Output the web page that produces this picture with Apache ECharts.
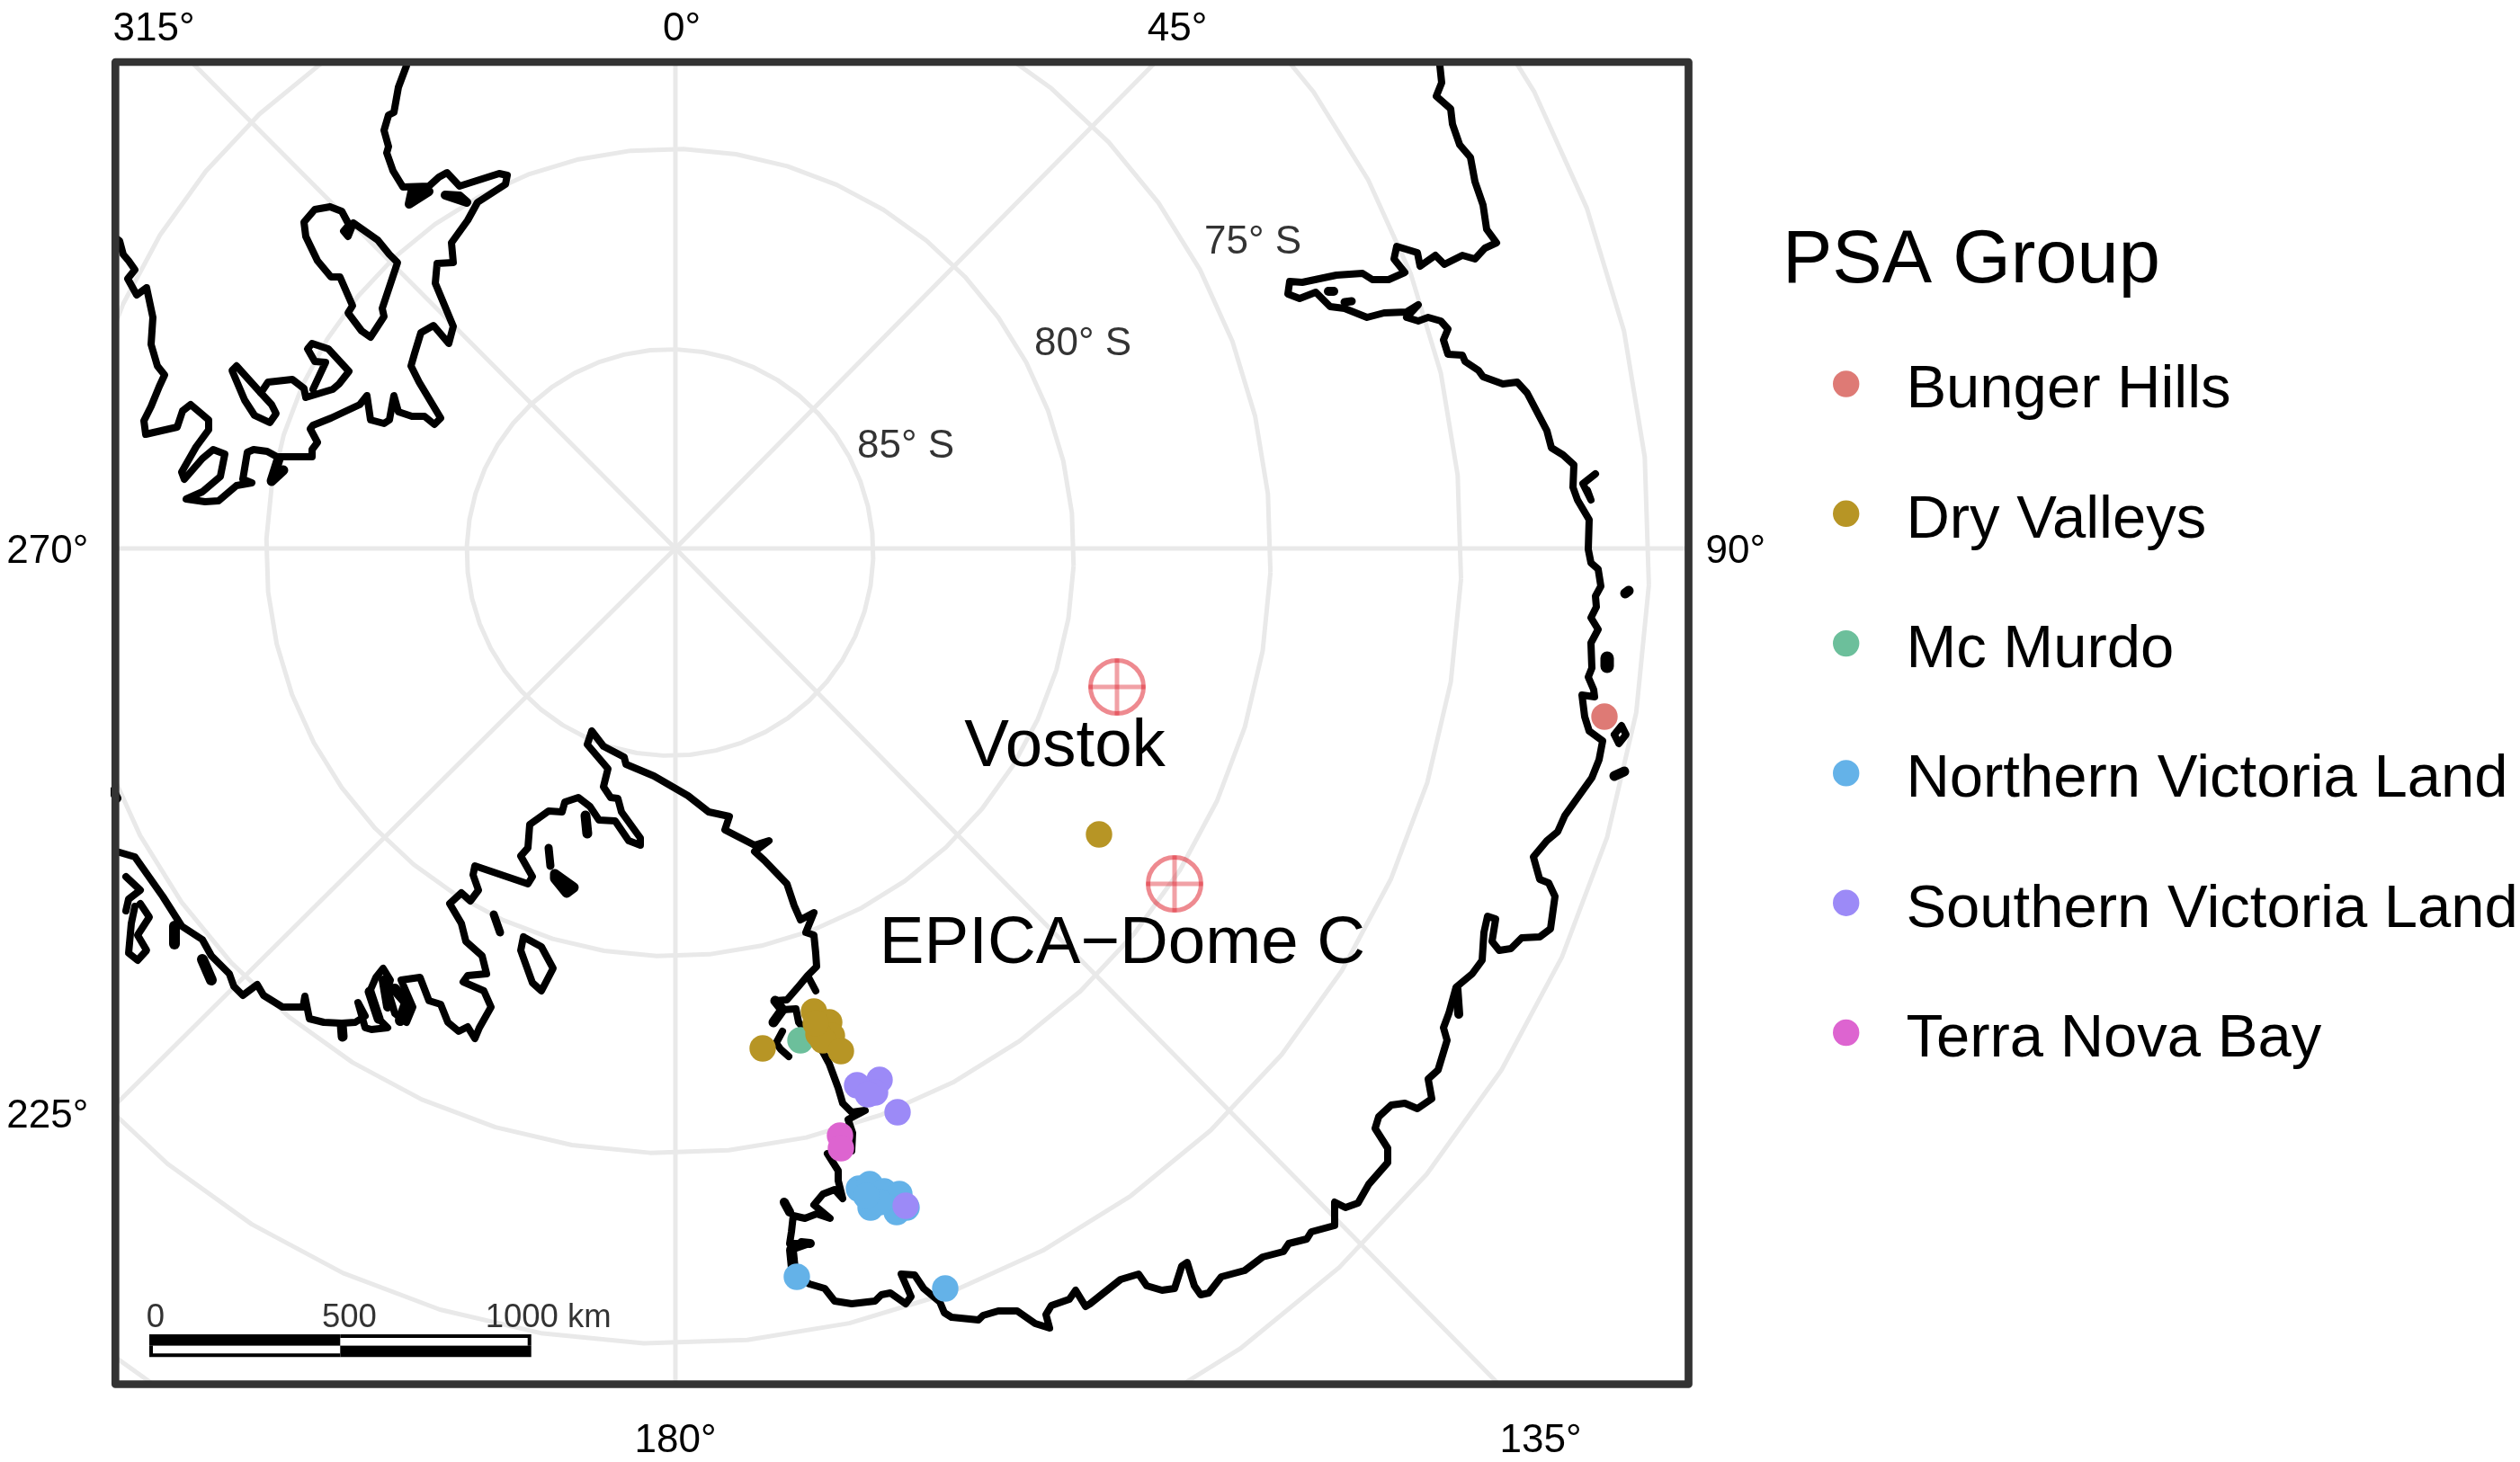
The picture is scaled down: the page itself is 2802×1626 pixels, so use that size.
<!DOCTYPE html>
<html><head><meta charset="utf-8">
<style>html,body{margin:0;padding:0;background:#fff}#c{width:2802px;height:1626px}</style>
<script src="https://cdn.jsdelivr.net/npm/echarts@6/dist/echarts.min.js"></script>
</head><body><div id="c"></div>
<script>
// Map units: polar-stereographic easting / southing from the pole. 1000 km = 424.7 units.
const UNITS_PER_KM = 0.4247;
const xLimits = [-622.7, 1126.5];
const yLimits = [-541, 929.5];

const groupNames = ['Bunger Hills','Dry Valleys','Mc Murdo','Northern Victoria Land','Southern Victoria Land','Terra Nova Bay'];
const bungerHills = [[1033,187]];
const dryValleys = [[154,515],[171,527],[174,542],[159,540],[164,547],[184,559],[97,556],[156,528],[471,318]];
const mcMurdo = [[139,547]];
const northernVictoria = [[204,712],[216,707],[232,715],[249,718],[217,733],[246,738],[257,733],[227,727],[212,720],[135,810],[300,823]];
const southernVictoria = [[202,597],[227,591],[222,605],[214,607],[247,627],[256,731]];
const terraNova = [[183,653],[184,667]];

const stationNames = ['Vostok','EPICA\u2212Dome C'];
const stationCoords = [[491,154],[555,373]];

const topTicks = {'-580':'315\u00b0','7':'0\u00b0','558':'45\u00b0'};
const bottomTicks = {'0':'180\u00b0','962':'135\u00b0'};
const leftTicks = {'4':'270\u00b0','632':'225\u00b0'};
const rightTicks = {'4':'90\u00b0'};

const parallelLabels = ['85\u00b0 S','80\u00b0 S','75\u00b0 S'];
const parallelLabelCoords = [[256,-113],[453,-227],[642,-340]];
const parallelRadii = [226,449,668,880,1089];
const parallelCentre = [-6,4.5];
const meridianEnds = [[0,-541],[534,-541],[1127,0],[916,930],[0,930],[-622,618],[-623,0],[-538,-541]];

const scaleKm = [0,500,1000];
const scaleTickLabels = ['0','500','1000 km'];
const scaleLabelShift = [7,10,19];

const coastEast = [[849,-550],[850,-537],[852,-518],[846,-503],[862,-489],[864,-472],[872,-449],[884,-435],[889,-408],[898,-382],[902,-355],[913,-340],[900,-334],[889,-322],[875,-326],[855,-316],[845,-326],[828,-314],[825,-329],[802,-336],[799,-322],[811,-307],[793,-299],[775,-299],[764,-306],[735,-304],[697,-296],[683,-297],[681,-283],[694,-278],[712,-285],[728,-269],[744,-267],[769,-257],[788,-262],[813,-263],[826,-271],[813,-257],[826,-253],[837,-257],[851,-253],[859,-244],[854,-232],[859,-216],[875,-215],[878,-208],[893,-198],[898,-191],[920,-183],[936,-185],[947,-173],[969,-131],[974,-112],[987,-104],[999,-93],[998,-68],[1003,-54],[1016,-32],[1015,1],[1018,16],[1026,23],[1029,42],[1023,53],[1024,65],[1018,77],[1026,90],[1018,105],[1019,133],[1015,143],[1021,157],[1022,165],[1008,163],[1011,187],[1016,203],[1031,214],[1027,235],[1019,255],[989,297],[981,315],[969,325],[954,343],[961,368],[971,372],[978,387],[973,423],[961,432],[941,433],[929,445],[916,447],[908,437],[912,412],[903,409],[899,427],[897,458],[886,473],[868,488],[860,517],[854,533],[858,547],[848,580],[837,590],[841,612],[825,623],[811,617],[796,619],[782,632],[778,645],[792,667],[792,683],[771,707],[759,728],[745,733],[733,727],[733,753],[707,760],[702,768],[682,773],[676,782],[653,788],[633,803],[607,810],[593,828],[584,830],[577,820],[569,794],[563,798],[555,823],[541,825],[524,820],[515,807],[495,813],[461,840],[456,843],[445,825],[438,835],[418,842],[412,852],[416,867],[400,862],[380,848],[359,848],[342,853],[337,858],[307,855],[299,850],[294,838],[276,823],[266,808],[251,807],[262,832],[256,840],[239,828],[229,830],[222,837],[196,840],[177,837],[166,823],[149,818],[135,810],[131,800],[129,780],[149,773],[127,773],[129,760],[131,742],[144,745],[157,740],[172,745],[154,730],[164,718],[177,713],[186,723],[181,703],[181,692],[169,673],[196,670],[197,650],[192,635],[211,625],[196,627],[186,617],[181,600],[171,573],[164,560],[156,550],[137,527],[134,512],[119,513],[109,527],[119,513],[111,503],[124,502],[137,487],[147,475],[156,492],[147,475],[157,465],[156,450],[154,430],[145,427],[154,405],[139,413],[132,397],[124,373],[99,347],[88,337],[104,325],[88,330],[55,313],[60,298],[37,293],[14,275],[-24,253],[-55,240],[-57,232],[-80,220],[-93,203],[-98,218],[-75,245],[-80,265],[-72,277],[-64,278],[-60,293],[-39,322],[-39,330],[-52,325],[-67,303],[-85,302],[-95,287],[-108,277],[-123,282],[-126,293],[-141,292],[-162,307],[-164,333],[-172,342],[-159,365],[-164,373],[-223,353],[-225,363],[-219,380],[-228,392],[-238,383],[-251,395],[-238,417],[-233,437],[-215,453],[-210,473],[-231,475],[-236,482],[-213,492],[-205,510],[-218,533],[-223,545],[-231,532],[-241,537],[-253,527],[-261,507],[-274,503],[-284,477],[-305,480],[-292,510],[-299,527],[-312,517],[-320,490],[-317,480],[-325,467],[-333,477],[-340,493],[-330,523],[-320,533],[-338,535],[-345,533],[-353,505],[-345,520],[-356,527],[-371,528],[-391,527],[-407,523],[-412,498],[-414,510],[-437,510],[-458,497],[-465,485],[-481,497],[-491,487],[-496,473],[-516,453],[-526,435],[-549,420],[-570,387],[-601,343],[-618,338],[-631,336]];
const coastPeninsula = [[-299,-550],[-299,-537],[-308,-513],[-313,-485],[-319,-482],[-324,-465],[-319,-447],[-321,-440],[-314,-420],[-303,-402],[-274,-403],[-263,-413],[-254,-418],[-240,-403],[-196,-417],[-187,-415],[-189,-405],[-220,-385],[-231,-365],[-249,-340],[-247,-318],[-265,-317],[-267,-295],[-247,-247],[-252,-228],[-269,-248],[-283,-240],[-290,-217],[-294,-203],[-285,-185],[-261,-145],[-268,-138],[-279,-147],[-293,-147],[-308,-152],[-313,-170],[-318,-143],[-324,-139],[-339,-143],[-343,-170],[-351,-160],[-383,-145],[-403,-137],[-406,-133],[-398,-118],[-404,-110],[-404,-102],[-443,-102],[-454,-108],[-469,-110],[-476,-107],[-481,-77],[-471,-73],[-488,-70],[-508,-53],[-523,-52],[-544,-55],[-526,-63],[-506,-80],[-501,-105],[-514,-110],[-526,-100],[-546,-77],[-549,-85],[-533,-113],[-519,-132],[-519,-143],[-539,-160],[-548,-153],[-554,-135],[-589,-127],[-591,-142],[-583,-158],[-574,-180],[-568,-193],[-576,-203],[-583,-227],[-581,-257],[-588,-290],[-599,-282],[-609,-300],[-601,-310],[-608,-320],[-614,-327],[-618,-342],[-626,-348]];
const coastShelfLoop = [[-384,-380],[-371,-375],[-363,-360],[-369,-353],[-364,-347],[-358,-362],[-331,-343],[-318,-327],[-309,-318],[-326,-267],[-324,-258],[-339,-235],[-349,-242],[-364,-262],[-359,-270],[-373,-302],[-383,-302],[-398,-320],[-411,-347],[-413,-363],[-401,-377],[-384,-380]];
const coastInlet = [[-488,-203],[-493,-198],[-479,-165],[-468,-148],[-451,-140],[-444,-150],[-449,-160],[-461,-173],[-488,-203]];
const coastInletBranch = [[-461,-173],[-453,-185],[-426,-188],[-413,-178],[-411,-168],[-381,-177],[-374,-183],[-363,-197],[-386,-222],[-404,-228],[-409,-222],[-401,-208],[-389,-207],[-403,-177]];
const islandsThin = [
  [[-169,432],[-149,443],[-136,467],[-149,492],[-159,483],[-172,447],[-169,432]],
  [[-611,365],[-595,380],[-608,390],[-611,403]],
  [[-595,395],[-585,410],[-598,430],[-588,447],[-598,458],[-608,450],[-605,417],[-601,398]],
  [[1044,207],[1052,197],[1057,207],[1049,217],[1044,207]],
  [[1023,-83],[1009,-72],[1018,-54],[1014,-65]],
  [[119,537],[112,550],[117,557],[126,565]]
];
// Short heavy blobs: small islands and tangled inlets too fine to show an outline
const islandsBlob = [
  [[-441,-100],[-449,-75],[-436,-87]],
  [[-296,-383],[-274,-397],[-293,-397],[-296,-383]],
  [[-256,-393],[-232,-385],[-240,-392],[-256,-393]],
  [[-141,333],[-139,353]],
  [[-134,362],[-113,377],[-121,383],[-134,367],[-134,362]],
  [[-202,407],[-195,427]],
  [[-100,297],[-98,317]],
  [[-371,530],[-370,543]],
  [[-557,420],[-557,440]],
  [[-526,457],[-516,480]],
  [[-621,278],[-625,270]],
  [[1056,50],[1060,47]],
  [[1036,122],[1036,131]],
  [[1044,253],[1055,248]],
  [[726,-286],[732,-286]],
  [[744,-274],[752,-275]],
  [[869,490],[871,518]],
  [[121,727],[127,738]],
  [[-312,490],[-299,505],[-306,525]],
  [[-340,493],[-330,523]],
  [[-325,480],[-320,510]],
  [[109,527],[119,513],[111,503]],
  [[131,800],[129,780]],
  [[140,772],[150,773]]
];
const blobWidths = [11,10,10,9,11,9,11,11,12,12,10,11,15,11,10,9,10,10,12,11,10,11,12,10];

const gratStyle = {color:'#E9E9E9', width:5};
const lineBase = {type:'line', showSymbol:false, symbol:'none', animation:false, silent:true, xAxisIndex:0, yAxisIndex:0};
function ringPoints(r){
  const pts=[];
  for(let deg=-1.9; deg<=358.1+0.01; deg+=7.5){
    const a=deg*Math.PI/180;
    pts.push([parallelCentre[0]+r*Math.cos(a), parallelCentre[1]-r*Math.sin(a)]);
  }
  pts.push(pts[0]);
  return pts;
}
const series=[];
parallelRadii.forEach((r,i)=>series.push({...lineBase,name:'parallel'+i,data:ringPoints(r),lineStyle:gratStyle,z:1}));
meridianEnds.forEach((e,i)=>series.push({...lineBase,name:'meridian'+i,data:[[0,0],e],lineStyle:gratStyle,z:1}));

const coastStyle={color:'#000',width:8,join:'round',cap:'round'};
[coastEast,coastPeninsula,coastShelfLoop,coastInlet,coastInletBranch].concat(islandsThin).forEach((d,i)=>{
  series.push({...lineBase,name:'coast'+i,data:d,lineStyle:coastStyle,z:2});
});
islandsBlob.forEach((d,i)=>{
  series.push({...lineBase,name:'blob'+i,data:d,lineStyle:{...coastStyle,width:blobWidths[i]},z:2});
});

const POINT=29.4;
const groups=[
  [groupNames[0],bungerHills,'#DE7A75'],
  [groupNames[2],mcMurdo,'#6CBF9B'],
  [groupNames[1],dryValleys,'#B79525'],
  [groupNames[3],northernVictoria,'#64B2E8'],
  [groupNames[4],southernVictoria,'#9C8AF7'],
  [groupNames[5],terraNova,'#DD64D0']
];
groups.forEach(g=>series.push({type:'scatter',name:g[0],data:g[1],symbol:'circle',symbolSize:POINT,itemStyle:{color:g[2],opacity:1},z:3,animation:false,silent:true}));

const stationRed='rgba(222,30,42,0.52)';
series.push({type:'scatter',name:'stationRing',data:stationCoords.map((c,i)=>({value:c,name:stationNames[i]})),symbol:'circle',symbolSize:59,
  itemStyle:{color:'rgba(0,0,0,0)',borderColor:stationRed,borderWidth:5,opacity:1},z:4,animation:false,silent:true,
  label:{show:true,position:'inside',formatter:'{b}',offset:[-58,67],color:'#000',fontFamily:'Liberation Sans',fontSize:74.5}});
series.push({type:'scatter',name:'stationH',data:stationCoords,symbol:'rect',symbolSize:[63,5],itemStyle:{color:stationRed},z:4,animation:false,silent:true});
series.push({type:'scatter',name:'stationV',data:stationCoords,symbol:'rect',symbolSize:[5,63],itemStyle:{color:stationRed},z:4,animation:false,silent:true});

series.push({type:'scatter',name:'parallelLabels',data:parallelLabelCoords.map((c,i)=>({value:c,name:parallelLabels[i]})),symbolSize:1,
  itemStyle:{color:'rgba(0,0,0,0)'},z:5,animation:false,silent:true,
  label:{show:true,position:'inside',formatter:'{b}',color:'#000',fontFamily:'Liberation Sans',fontSize:44}});

// Scale bar: a black cell per segment, white segments inset on their outer sides
const barLeft=-585, barTop=874, barRowHeight=12.65, barEdge=4;
const kmX=km=>barLeft+km*UNITS_PER_KM;
const scaleSegments=[[0,500,0,'#000'],[500,1000,0,'#fff'],[0,500,1,'#fff'],[500,1000,1,'#000']];
series.push({type:'custom',name:'scaleBar',data:scaleSegments,z:6,animation:false,silent:true,
  renderItem(p,api){
    const s=scaleSegments[p.dataIndex];
    const a=api.coord([kmX(s[0]),barTop+s[2]*barRowHeight]);
    const b=api.coord([kmX(s[1]),barTop+(s[2]+1)*barRowHeight]);
    const children=[{type:'rect',shape:{x:a[0],y:a[1],width:b[0]-a[0],height:b[1]-a[1]},style:{fill:'#000'}}];
    if(s[3]==='#fff'){
      const l=s[2]===1?barEdge:0, r=s[2]===0?barEdge:0, t=s[2]===0?barEdge:0, bt=s[2]===1?barEdge:0;
      children.push({type:'rect',shape:{x:a[0]+l,y:a[1]+t,width:b[0]-a[0]-l-r,height:b[1]-a[1]-t-bt},style:{fill:'#fff'}});
    }
    return {type:'group',children};
  }});
series.push({type:'scatter',name:'scaleLabels',data:scaleKm.map((k,i)=>({value:[kmX(k)+scaleLabelShift[i],856],name:scaleTickLabels[i]})),symbolSize:1,
  itemStyle:{color:'rgba(0,0,0,0)'},z:6,animation:false,silent:true,
  label:{show:true,position:'inside',formatter:'{b}',color:'#000',fontFamily:'Liberation Sans',fontSize:36.5}});

series.push({...lineBase,name:'panel',clip:false,z:9,
  data:[[xLimits[0],yLimits[0]],[xLimits[1],yLimits[0]],[xLimits[1],yLimits[1]],[xLimits[0],yLimits[1]],[xLimits[0],yLimits[0]],[xLimits[1],yLimits[0]]],
  lineStyle:{color:'#333333',width:8.7,join:'round',cap:'round'}});

function tickAxis(map,pos,margin,lim){
  return {type:'value',position:pos,min:lim[0],max:lim[1],inverse:(pos==='left'||pos==='right'),scale:true,
    axisLine:{show:false},axisTick:{show:false},splitLine:{show:false},
    axisLabel:{show:true,customValues:Object.keys(map).map(Number),formatter:v=>map[String(Math.round(v))],margin,hideOverlap:false,showMinLabel:true,showMaxLabel:true,
      color:'#000',fontFamily:'Liberation Sans',fontSize:44}};
}

// Legend key: a circle sitting at the top of a taller box, so the key rides slightly above its label's centre
const legendIcon='path://M0 14.7A14.7 14.7 0 1 1 29.4 14.7A14.7 14.7 0 1 1 0 14.7ZM14.7 45.39L14.7 45.4Z';

const chart=echarts.init(document.getElementById('c'),null,{renderer:'canvas',width:2802,height:1626});
chart.setOption({
  backgroundColor:'#fff',animation:false,
  grid:{left:128.3,top:69,right:924.5,bottom:86.5,containLabel:false,show:false},
  title:{text:'PSA Group',left:1982,top:250,textStyle:{color:'#000',fontFamily:'Liberation Sans',fontSize:83,fontWeight:'normal'},padding:0},
  legend:{show:true,orient:'vertical',left:2038,top:401.5,padding:0,itemWidth:POINT,itemHeight:45.4,itemGap:77.3,icon:legendIcon,selectedMode:false,
    data:groupNames,textStyle:{color:'#000',fontFamily:'Liberation Sans',fontSize:67,lineHeight:67,padding:[0,0,0,47]}},
  xAxis:[tickAxis(bottomTicks,'bottom',41,xLimits),tickAxis(topTicks,'top',14,xLimits)],
  yAxis:[tickAxis(leftTicks,'left',30,yLimits),tickAxis(rightTicks,'right',19,yLimits)],
  series
});
</script></body></html>
